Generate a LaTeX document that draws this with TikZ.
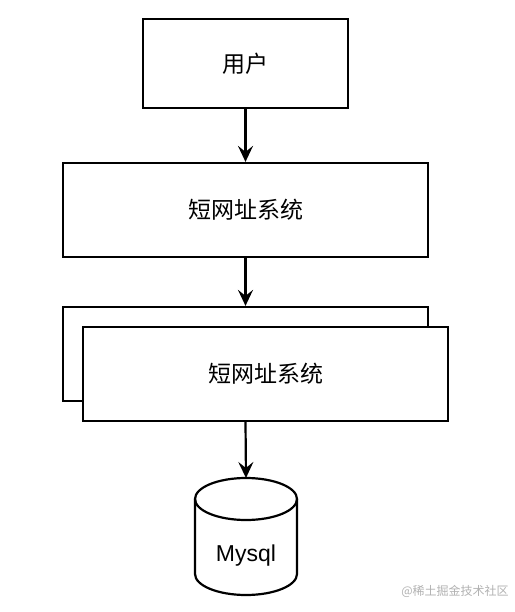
\documentclass[tikz,border=0pt]{standalone}
\usepackage{fontspec}
\newfontfamily\cjk{Noto Sans CJK SC}
\newfontfamily\lib{Liberation Sans}
\usetikzlibrary{arrows.meta}
\begin{document}
\begin{tikzpicture}[x=1pt,y=-1pt,
  box/.style={draw=black,line width=2.2pt,fill=white,rectangle,inner sep=0pt,minimum width=365pt,minimum height=94pt,font=\cjk\fontsize{23}{27}\selectfont},
  conn/.style={line width=2.2pt,-{Stealth[length=16pt,width=15pt,inset=6pt]}},
  dbline/.style={draw=black,line width=2.2pt,fill=white}]
\useasboundingbox[fill=white] (0,0) rectangle (514,612);
\node[box,minimum width=205pt,minimum height=89pt] (user) at (245.5,63.5) {用户};
\node[box] (sys) at (245.5,210) {短网址系统};
\node[box] (back) at (245.5,354) {};
\node[box] (front) at (265.5,374) {短网址系统};
% cylinder
\path[dbline] (195,499) -- (195,574) arc[start angle=180,end angle=0,x radius=51,y radius=21] -- (297,499) arc[start angle=0,end angle=-180,x radius=51,y radius=21] -- cycle;
\draw[line width=2.2pt] (195,499) arc[start angle=180,end angle=0,x radius=51,y radius=21];
\coordinate (dbtop) at (246,478);
\node[font=\lib\fontsize{23}{27}\selectfont] (db) at (246,556) {Mysql};
\draw[conn] (user.south) -- (sys.north);
\draw[conn] (sys.south) -- (back.north);
\draw[conn] (sys.south |- front.south) -- (dbtop);
\node[font=\cjk\fontsize{12}{14}\selectfont,text=black!30] (wm) at (455,591) {@稀土掘金技术社区};
\end{tikzpicture}
\end{document}
